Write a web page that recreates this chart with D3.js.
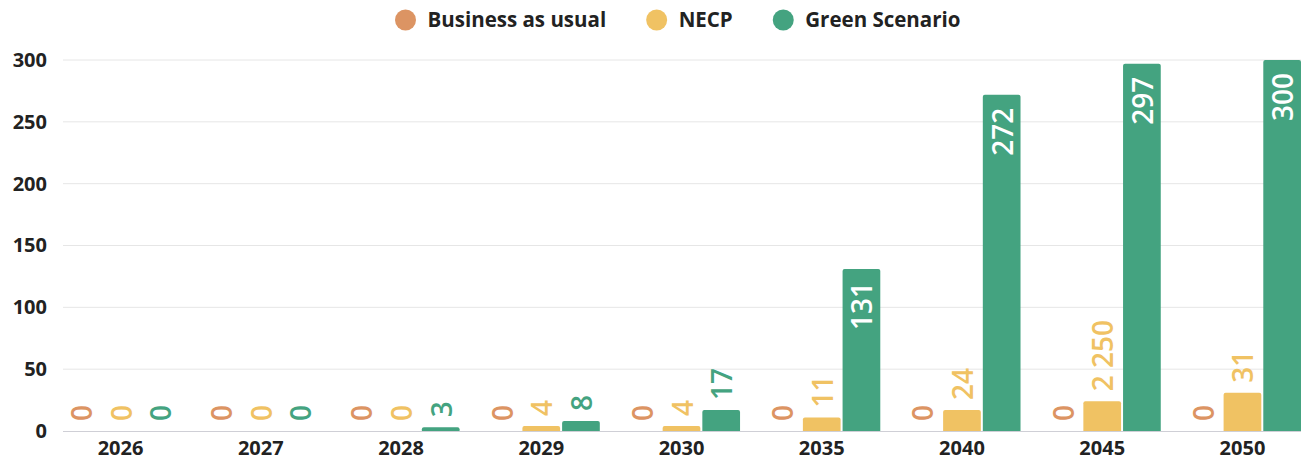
<!DOCTYPE html>
<html>
<head>
<meta charset="utf-8">
<script src="https://cdn.jsdelivr.net/npm/d3@7"></script>
<style>
  body { margin:0; background:#fff; }
  svg { font-family: "Open Sans", Lato, sans-serif; }
</style>
</head>
<body>
<svg id="chart" width="1303" height="462"></svg>
<script>
// data
const years   = ['2026','2027','2028','2029','2030','2035','2040','2045','2050'];
const series  = ['Business as usual','NECP','Green Scenario'];
const colors  = ['#dc9463','#f0c263','#44a380'];
const bau     = [0,0,0,0,0,0,0,0,0];
const necp    = [0,0,0,4,4,11,17,24,31];
const green   = [0,0,3,8,17,131,272,297,300];
// labels as printed on the chart
const bauLbl   = ['0','0','0','0','0','0','0','0','0'];
const necpLbl  = ['0','0','0','4','4','11','24','2 250','31'];
const greenLbl = ['0','0','3','8','17','131','272','297','300'];
const yTicks  = [0,50,100,150,200,250,300];

const values = [bau, necp, green];
const labels = [bauLbl, necpLbl, greenLbl];

const svg = d3.select('#chart');
const H0 = 431, Htop = 60;

const x0 = d3.scaleBand().domain(years).range([62,1301]).paddingInner(0.165).paddingOuter(0);
const x1 = d3.scaleBand().domain(d3.range(3)).range([0, x0.bandwidth()]).paddingInner(0.05).paddingOuter(0);
const y  = d3.scaleLinear().domain([0,300]).range([H0, Htop]);

// gridlines
svg.append('g').selectAll('line').data(yTicks.filter(d=>d>0)).enter().append('line')
  .attr('x1',63).attr('x2',1301)
  .attr('y1',d=>y(d)).attr('y2',d=>y(d))
  .attr('stroke','#e6e6e6').attr('stroke-width',1);

// y axis labels
const yAxis = svg.append('g').attr('transform','translate(47,0)')
  .call(d3.axisLeft(y).tickValues(yTicks).tickSize(0).tickPadding(0));
yAxis.select('.domain').remove();
yAxis.selectAll('text')
  .attr('font-size',20).attr('font-weight',700).attr('fill','#222')
  .attr('font-family','"Open Sans", sans-serif');

// bars
function barPath(x, w, yt, yb){
  const h = yb - yt;
  if (h <= 0) return '';
  const r = Math.min(2, h, w/2);
  return `M${x},${yb}V${yt+r}Q${x},${yt} ${x+r},${yt}H${x+w-r}Q${x+w},${yt} ${x+w},${yt+r}V${yb}Z`;
}

const groups = svg.append('g').selectAll('g').data(years).enter().append('g')
  .attr('transform', d=>`translate(${x0(d)},0)`);

groups.each(function(yr, i){
  const g = d3.select(this);
  for (let s = 0; s < 3; s++){
    const v = values[s][i];
    const bx = x1(s), bw = x1.bandwidth();
    g.append('path')
      .attr('d', barPath(bx, bw, y(v), H0))
      .attr('fill', colors[s]);

    const inside = v > 100;
    const cx = bx + bw/2;
    const ty = inside ? y(v) + 13 : y(v) - 10;
    g.append('text')
      .attr('transform', `translate(${cx},${ty}) rotate(-90)`)
      .attr('text-anchor', inside ? 'end' : 'start')
      .attr('dominant-baseline','central')
      .attr('font-size',28).attr('font-weight',600)
      .attr('fill', inside ? '#fff' : colors[s])
      .text(labels[s][i]);
  }
});

// baseline
svg.append('line').attr('x1',63).attr('x2',1301).attr('y1',H0+0.5).attr('y2',H0+0.5)
  .attr('stroke','#cfcfd6').attr('stroke-width',1);

// x axis labels
const xAxis = svg.append('g').attr('transform',`translate(0,${H0})`)
  .call(d3.axisBottom(x0).tickSize(0).tickPadding(10));
xAxis.select('.domain').remove();
xAxis.selectAll('text')
  .attr('font-size',20).attr('font-weight',700).attr('fill','#222')
  .attr('font-family','"Open Sans", sans-serif');

// legend — laid out by measured text widths
const leg = svg.append('g');
let lx = 395;
series.forEach((name, i) => {
  const g = leg.append('g').attr('transform', `translate(${lx + 10.5},20)`);
  g.append('circle').attr('r',10.5).attr('fill',colors[i]);
  const t = g.append('text').attr('x',22).attr('dy','0.35em')
    .attr('font-size',20.5).attr('font-weight',700).attr('fill','#222')
    .text(name);
  lx += 10.5 + 22 + t.node().getComputedTextLength() + 40;
});
</script>
</body>
</html>
